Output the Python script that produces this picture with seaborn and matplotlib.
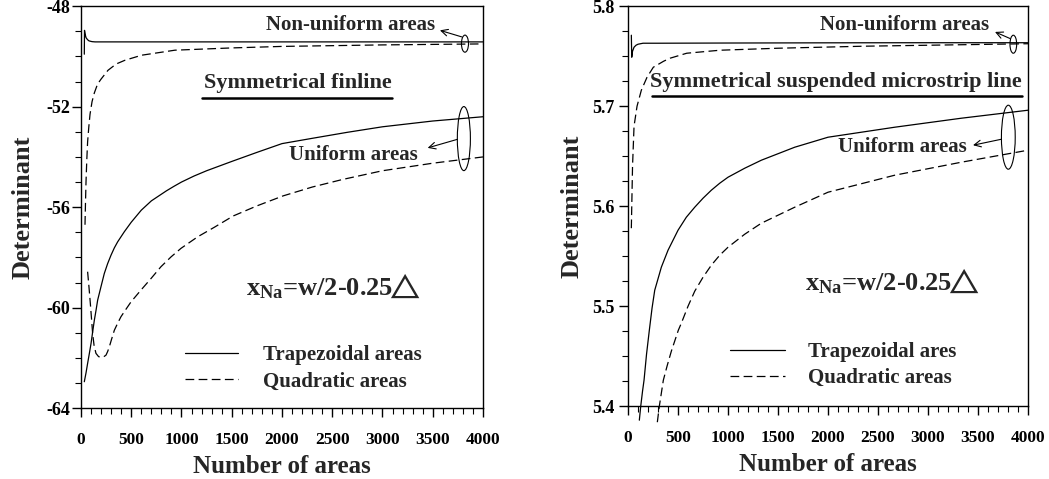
import numpy as np
import pandas as pd
import matplotlib
matplotlib.use('Agg')
import matplotlib.pyplot as plt
from matplotlib.patches import Ellipse
from matplotlib.ticker import MultipleLocator
import seaborn as sns

sns.set_theme(style='ticks')
plt.rcParams['font.family'] = ['Liberation Serif', 'DejaVu Serif']
plt.rcParams['font.weight'] = 'bold'
plt.rcParams['axes.unicode_minus'] = False
plt.rcParams['mathtext.fontset'] = 'custom'
plt.rcParams['mathtext.rm'] = 'Liberation Serif:bold'
plt.rcParams['mathtext.it'] = 'Liberation Serif:bold'
plt.rcParams['mathtext.bf'] = 'Liberation Serif:bold'
plt.rcParams['mathtext.fallback'] = 'stix'

# Data: symmetrical finline (left panel) ##################################
fin_trap_nu_x = [33, 35, 42, 50, 65, 80, 110, 140, 200, 500, 1000, 2000, 3000, 4000]
fin_trap_nu_y = [-49.91, -48.96, -49.12, -49.25, -49.33, -49.38, -49.41, -49.42, -49.42,
                 -49.42, -49.42, -49.42, -49.42, -49.42]
fin_quad_nu_x = [40, 45, 50, 58, 66, 78, 90, 110, 133, 165, 200, 269, 350, 438, 604, 935,
                 1500, 2000, 3000, 4000]
fin_quad_nu_y = [-56.7, -55.8, -55.0, -54.1, -53.4, -52.8, -52.3, -51.8, -51.45, -51.1, -50.9,
                 -50.55, -50.3, -50.15, -49.95, -49.75, -49.66, -49.6, -49.54, -49.5]
fin_trap_u_x = [33, 50, 66, 83, 100, 116, 133, 150, 166, 200, 232, 265, 299, 332, 365, 431,
                500, 600, 700, 850, 925, 1000, 1125, 1250, 1500, 1750, 2000, 2300, 2650, 3000,
                3500, 4000]
fin_trap_u_y = [-62.95, -62.6, -62.22, -61.83, -61.43, -60.97, -60.5, -60.1, -59.7, -59.15,
                -58.64, -58.25, -57.91, -57.62, -57.38, -56.98, -56.6, -56.12, -55.75, -55.35,
                -55.17, -55.0, -54.76, -54.55, -54.18, -53.82, -53.47, -53.26, -53.02, -52.8,
                -52.57, -52.40]
fin_quad_u_x = [66, 80, 93, 105, 116, 130, 149, 175, 199, 225, 249, 265, 282, 305, 332, 365,
                398, 450, 498, 597, 697, 796, 896, 995, 1161, 1327, 1515, 1750, 2012, 2300,
                2600, 3000, 3500, 4000]
fin_quad_u_y = [-58.57, -59.2, -59.83, -60.45, -61.03, -61.5, -61.82, -61.95, -61.98, -61.96,
                -61.89, -61.75, -61.56, -61.25, -60.9, -60.62, -60.36, -60.05, -59.77, -59.3,
                -58.84, -58.37, -57.98, -57.64, -57.18, -56.8, -56.35, -55.95, -55.55, -55.2,
                -54.9, -54.55, -54.25, -54.0]

# Data: symmetrical suspended microstrip line (right panel) ###############
ssm_trap_nu_x = [33, 37, 45, 60, 80, 100, 150, 300, 1000, 2000, 3000, 4000]
ssm_trap_nu_y = [5.771, 5.749, 5.755, 5.759, 5.761, 5.762, 5.763, 5.763, 5.7632, 5.7634,
                 5.7635, 5.7635]
ssm_quad_nu_x = [33, 45, 60, 90, 133, 190, 253, 356, 420, 587, 920, 1500, 2353, 4000]
ssm_quad_nu_y = [5.578, 5.64, 5.68, 5.700, 5.716, 5.729, 5.739, 5.745, 5.748, 5.753, 5.756,
                 5.758, 5.760, 5.7625]
ssm_trap_u_x = [113, 127, 145, 160, 185, 213, 240, 267, 313, 333, 400, 500, 583, 667, 750,
                833, 917, 1000, 1167, 1333, 1667, 2000, 2667, 3333, 4000]
ssm_trap_u_y = [5.386, 5.40, 5.415, 5.426, 5.452, 5.476, 5.498, 5.516, 5.532, 5.539, 5.556,
                5.576, 5.589, 5.599, 5.608, 5.616, 5.623, 5.629, 5.638, 5.646, 5.659, 5.669,
                5.679, 5.688, 5.696]
ssm_quad_u_x = [293, 313, 333, 353, 390, 433, 503, 533, 600, 667, 750, 833, 917, 1000, 1167,
                1333, 1667, 2000, 2667, 3333, 4000]
ssm_quad_u_y = [5.384, 5.40, 5.413, 5.426, 5.44, 5.455, 5.476, 5.483, 5.50, 5.515, 5.529,
                5.541, 5.551, 5.559, 5.572, 5.583, 5.599, 5.614, 5.631, 5.644, 5.656]

legend_labels_fin = ['Trapezoidal areas', 'Quadratic areas']
legend_labels_ssm = ['Trapezoidal ares', 'Quadratic areas']
xna_text = r'$\mathrm{x}_{\mathrm{Na}}$=w/2-0.25$\!\!\triangle$'

DASH = (0, (7, 3.5))


def draw_curve(ax, x, y, dashed, clip=True):
    df = pd.DataFrame({'n': x, 'det': y})
    sns.lineplot(data=df, x='n', y='det', ax=ax, color='black', lw=0.9,
                 linestyle=DASH if dashed else '-', estimator=None, errorbar=None,
                 sort=False, clip_on=clip)


def style_axes(ax, ylim, ymajor, yminor, ypad, ylabpad):
    ax.set_xlim(0, 4000)
    ax.set_ylim(*ylim)
    ax.xaxis.set_major_locator(MultipleLocator(500))
    ax.xaxis.set_minor_locator(MultipleLocator(100))
    ax.yaxis.set_major_locator(MultipleLocator(ymajor))
    ax.yaxis.set_minor_locator(MultipleLocator(yminor))
    ax.tick_params(which='major', direction='out', length=6.5, width=1, colors='black')
    ax.tick_params(which='minor', direction='out', length=4.5, width=0.8, colors='black')
    ax.tick_params(axis='x', which='major', pad=11, labelsize=12.5)
    ax.tick_params(axis='y', which='major', pad=ypad, labelsize=13)
    for lab in ax.get_xticklabels() + ax.get_yticklabels():
        lab.set_fontweight('bold')
    for sp in ax.spines.values():
        sp.set_visible(True)
        sp.set_color('black')
        sp.set_linewidth(1.0)
    ax.set_xlabel('Number of areas', fontsize=18, fontweight='bold', labelpad=5)
    ax.set_ylabel('Determinant', fontsize=19, fontweight='bold', labelpad=ylabpad)


def arrow(ax, tail, head):
    ax.annotate('', xy=head, xytext=tail,
                arrowprops=dict(arrowstyle='->', lw=0.8, color='black',
                                shrinkA=0, shrinkB=0))


fig = plt.figure(figsize=(10.49, 4.79), dpi=100)
ax1 = fig.add_axes([0.0772, 0.148, 0.3832, 0.839])
ax2 = fig.add_axes([0.5987, 0.152, 0.3813, 0.835])

# Left panel ###########################################################
draw_curve(ax1, fin_trap_nu_x, fin_trap_nu_y, False)
draw_curve(ax1, fin_quad_nu_x, fin_quad_nu_y, True)
draw_curve(ax1, fin_trap_u_x, fin_trap_u_y, False)
draw_curve(ax1, fin_quad_u_x, fin_quad_u_y, True)
handles1 = ax1.lines[:2]
style_axes(ax1, (-64, -48), 4, 1, 1, 9)

ax1.text(3522, -48.76, 'Non-uniform areas', ha='right', va='center', fontsize=15,
         fontweight='bold')
ax1.text(2154, -51.05, 'Symmetrical finline', ha='center', va='center', fontsize=16,
         fontweight='bold')
ax1.axhline(-51.67, xmin=0.300, xmax=0.773, color='black', lw=1.8)
ax1.text(2706, -53.91, 'Uniform areas', ha='center', va='center', fontsize=15,
         fontweight='bold')
ax1.text(2507, -59.15, xna_text, ha='center', va='center', fontsize=19, fontweight='bold')
ax1.add_patch(Ellipse((3821, -49.49), 70, 0.68, fill=False, lw=0.8, color='black'))
ax1.add_patch(Ellipse((3810, -53.27), 130, 2.55, fill=False, lw=0.8, color='black'))
arrow(ax1, (3788, -49.22), (3572, -48.96))
arrow(ax1, (3745, -53.3), (3450, -53.64))
ax1.legend(handles1, legend_labels_fin, loc='center left', bbox_to_anchor=(0.259, 0.099),
           frameon=False, handlelength=2.55, handletextpad=1.2,
           labelspacing=0.3, borderpad=0, borderaxespad=0,
           prop={'weight': 'bold', 'size': 15})

# Right panel ##########################################################
draw_curve(ax2, ssm_trap_nu_x, ssm_trap_nu_y, False)
draw_curve(ax2, ssm_quad_nu_x, ssm_quad_nu_y, True)
draw_curve(ax2, ssm_trap_u_x, ssm_trap_u_y, False, clip=False)
draw_curve(ax2, ssm_quad_u_x, ssm_quad_u_y, True, clip=False)
handles2 = ax2.lines[:2]
style_axes(ax2, (5.4, 5.8), 0.1, 0.025, 3.5, 6)

ax2.text(3610, 5.781, 'Non-uniform areas', ha='right', va='center', fontsize=15,
         fontweight='bold')
ax2.text(2080, 5.724, 'Symmetrical suspended microstrip line', ha='center', va='center',
         fontsize=16, fontweight='bold')
ax2.axhline(5.7103, xmin=0.059, xmax=0.984, color='black', lw=1.8)
ax2.text(2740, 5.659, 'Uniform areas', ha='center', va='center', fontsize=15,
         fontweight='bold')
ax2.text(2640, 5.525, xna_text, ha='center', va='center', fontsize=19, fontweight='bold')
ax2.add_patch(Ellipse((3853, 5.762), 67, 0.018, fill=False, lw=0.8, color='black'))
ax2.add_patch(Ellipse((3803, 5.669), 138, 0.064, fill=False, lw=0.8, color='black'))
arrow(ax2, (3820, 5.7677), (3670, 5.7743))
arrow(ax2, (3735, 5.667), (3450, 5.661))
ax2.legend(handles2, legend_labels_ssm, loc='center left', bbox_to_anchor=(0.255, 0.103),
           frameon=False, handlelength=2.65, handletextpad=1.1,
           labelspacing=0.3, borderpad=0, borderaxespad=0,
           prop={'weight': 'bold', 'size': 15})

fig.savefig('out.png', dpi=100)
